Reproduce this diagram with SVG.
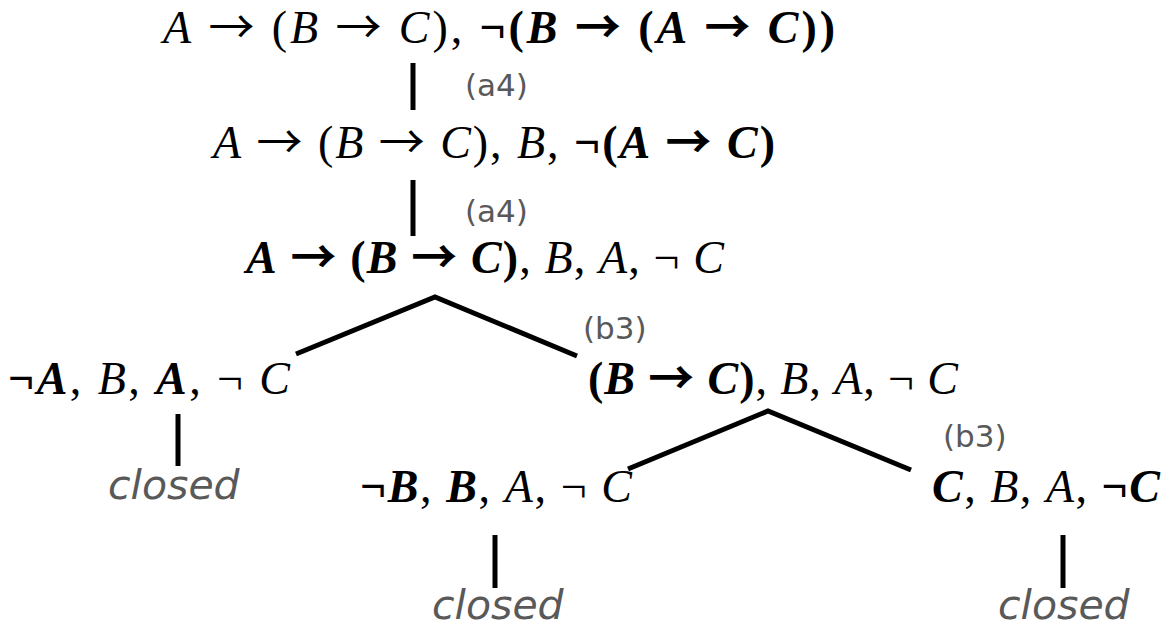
<svg xmlns="http://www.w3.org/2000/svg" width="1169" height="626" viewBox="0 0 1169 626">
<style>
.f{font-family:"Liberation Serif","Times New Roman",serif;font-size:46px;fill:#000}
.i{font-style:italic}
.b{font-weight:bold}
.a{font-family:"Noto Sans CJK JP","DejaVu Sans",sans-serif;font-style:normal}
.lab{font-family:"DejaVu Sans",Verdana,sans-serif;font-size:31px;fill:#595959}
.cl{font-family:"DejaVu Sans",Verdana,sans-serif;font-size:41px;font-style:italic;fill:#595959}
.e{stroke:#000;stroke-width:5;fill:none}
</style>
<rect width="1169" height="626" fill="#fff"/>
<g id="connectors">
<line class="e" x1="413" y1="63" x2="413" y2="110"/>
<line class="e" x1="413" y1="180" x2="413" y2="236"/>
<polyline class="e" points="296,354 435,297 577,356"/>
<polyline class="e" points="628,469 768,411 911,470"/>
<line class="e" x1="178" y1="414" x2="178" y2="466"/>
<line class="e" x1="495" y1="535" x2="495" y2="588"/>
<line class="e" x1="1063" y1="535" x2="1063" y2="588"/>
</g>
<g id="labels">
<text class="lab" x="465" y="96">(a4)</text>
<text class="lab" x="465" y="222">(a4)</text>
<text class="lab" x="583" y="339">(b3)</text>
<text class="lab" x="943" y="447">(b3)</text>
</g>
<g id="n1"><text class="f" x="163" y="43" textLength="672" lengthAdjust="spacing"><tspan class="i">A</tspan> <tspan class="a">→</tspan> (<tspan class="i">B</tspan> <tspan class="a">→</tspan> <tspan class="i">C</tspan>), <tspan class="b">¬(<tspan class="i">B</tspan> <tspan class="a">→</tspan> (<tspan class="i">A</tspan> <tspan class="a">→</tspan> <tspan class="i">C</tspan>))</tspan></text></g>
<g id="n2"><text class="f" x="213" y="158" textLength="562" lengthAdjust="spacing"><tspan class="i">A</tspan> <tspan class="a">→</tspan> (<tspan class="i">B</tspan> <tspan class="a">→</tspan> <tspan class="i">C</tspan>), <tspan class="i">B</tspan>, <tspan class="b">¬(<tspan class="i">A</tspan> <tspan class="a">→</tspan> <tspan class="i">C</tspan>)</tspan></text></g>
<g id="n3"><text class="f" x="246" y="273" textLength="478" lengthAdjust="spacing"><tspan class="b"><tspan class="i">A</tspan> <tspan class="a">→</tspan> (<tspan class="i">B</tspan> <tspan class="a">→</tspan> <tspan class="i">C</tspan>)</tspan>, <tspan class="i">B</tspan>, <tspan class="i">A</tspan>, ¬ <tspan class="i">C</tspan></text></g>
<g id="n4"><text class="f" x="8" y="394" textLength="282" lengthAdjust="spacing"><tspan class="b">¬<tspan class="i">A</tspan></tspan>, <tspan class="i">B</tspan>, <tspan class="b i">A</tspan>, ¬ <tspan class="i">C</tspan></text></g>
<g id="n5"><text class="f" x="588" y="394" textLength="370" lengthAdjust="spacing"><tspan class="b">(<tspan class="i">B</tspan> <tspan class="a">→</tspan> <tspan class="i">C</tspan>)</tspan>, <tspan class="i">B</tspan>, <tspan class="i">A</tspan>, ¬ <tspan class="i">C</tspan></text></g>
<g id="n6"><text class="cl" x="108" y="499">closed</text></g>
<g id="n7"><text class="f" x="360" y="502" textLength="272" lengthAdjust="spacing"><tspan class="b">¬<tspan class="i">B</tspan></tspan>, <tspan class="b i">B</tspan>, <tspan class="i">A</tspan>, ¬ <tspan class="i">C</tspan></text></g>
<g id="n8"><text class="f" x="932" y="502" textLength="228" lengthAdjust="spacing"><tspan class="b i">C</tspan>, <tspan class="i">B</tspan>, <tspan class="i">A</tspan>, <tspan class="b">¬<tspan class="i">C</tspan></tspan></text></g>
<g id="n9"><text class="cl" x="432" y="619">closed</text></g>
<g id="n10"><text class="cl" x="998" y="619">closed</text></g>
</svg>
